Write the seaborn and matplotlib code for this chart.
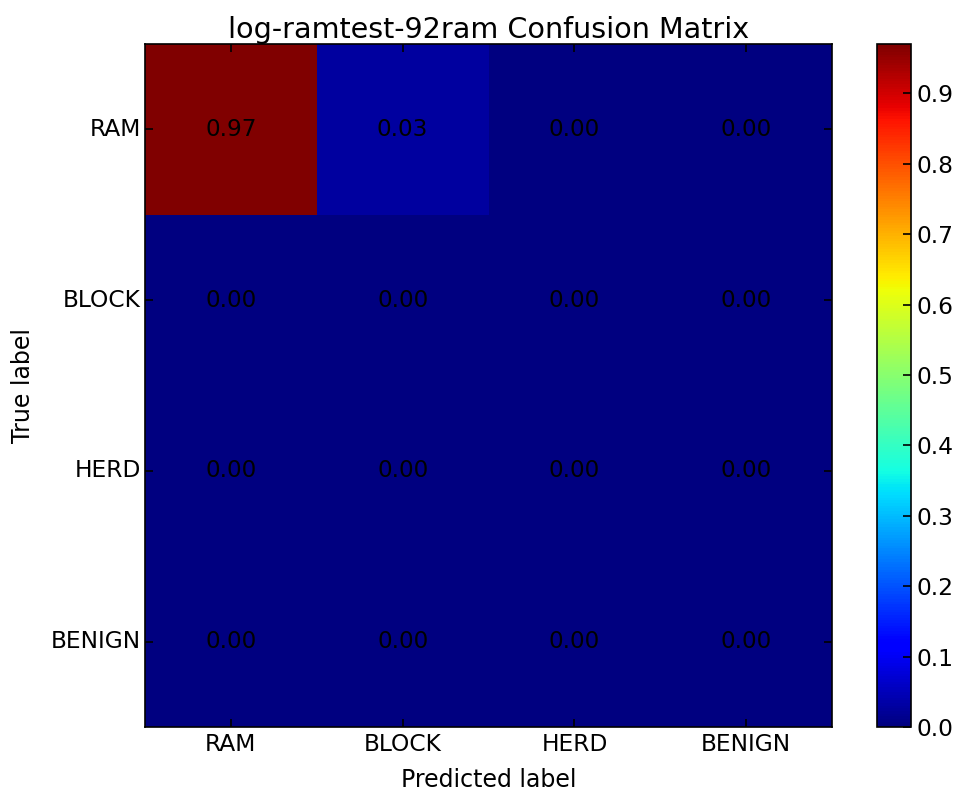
import numpy as np
import pandas as pd
import matplotlib
matplotlib.use("Agg")
import matplotlib.pyplot as plt
import seaborn as sns

classes = ["RAM", "BLOCK", "HERD", "BENIGN"]
row_ram = [0.97, 0.03, 0.00, 0.00]
row_block = [0.00, 0.00, 0.00, 0.00]
row_herd = [0.00, 0.00, 0.00, 0.00]
row_benign = [0.00, 0.00, 0.00, 0.00]
cbar_ticks = [0.0, 0.1, 0.2, 0.3, 0.4, 0.5, 0.6, 0.7, 0.8, 0.9]
title = "log-ramtest-92ram Confusion Matrix"

cm = pd.DataFrame([row_ram, row_block, row_herd, row_benign], index=classes, columns=classes)

plt.rcParams['font.family'] = ['DejaVu Sans']
fig = plt.figure(figsize=(9.61, 7.93), dpi=100)
ax = fig.add_axes([0.1509, 0.0832, 0.715, 0.8613])
cax = fig.add_axes([0.9126, 0.0832, 0.0354, 0.8613])

sns.heatmap(cm, ax=ax, cbar_ax=cax, cmap="jet", vmin=0, vmax=cm.values.max(),
            annot=True, fmt=".2f", annot_kws={"color": "black", "fontsize": 16.7},
            square=False, linewidths=0)

for sp in ax.spines.values():
    sp.set_visible(True)
    sp.set_linewidth(1.2)
    sp.set_color("black")
ax.tick_params(axis="both", direction="in", length=6, width=1.2, labelsize=16.8,
               top=True, right=True, pad=4)
ax.tick_params(axis="y", pad=3)
ax.set_xticklabels(classes, rotation=0)
ax.set_yticklabels(classes, rotation=0)
ax.set_xlabel("Predicted label", fontsize=17, labelpad=9)
ax.set_ylabel("True label", fontsize=17, labelpad=11)
ax.set_title(title, fontsize=20.6, pad=4)

cb = ax.collections[0].colorbar
cb.set_ticks(cbar_ticks)
cb.set_ticklabels([f"{t:.1f}" for t in cbar_ticks])
cax.tick_params(direction="in", length=6, width=1.2, labelsize=16.8, pad=4)
cb.outline.set_visible(True)
cb.outline.set_linewidth(1.2)
cb.outline.set_edgecolor("black")

fig.savefig("out.png", dpi=100)
